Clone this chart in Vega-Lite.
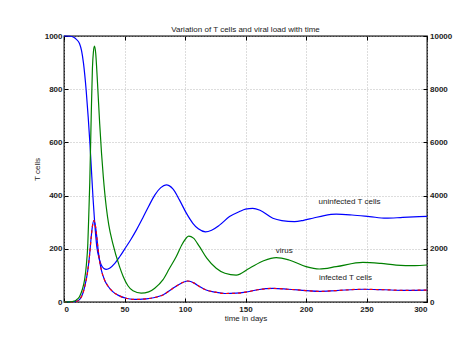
{
  "$schema": "https://vega.github.io/schema/vega-lite/v6.json",
  "width": 363,
  "height": 266,
  "autosize": {"type": "none"},
  "padding": {"left": 64, "top": 36, "right": 39, "bottom": 46},
  "background": "white",
  "title": {"text": "Variation of T cells and viral load with time", "fontSize": 8, "font": "Liberation Sans", "fontWeight": "normal", "color": "#222", "offset": -2},
  "config": {
    "view": {"stroke": "#000", "strokeWidth": 1.3},
    "font": "Liberation Sans",
    "axis": {
      "domain": false,
      "tickSize": -4,
      "tickColor": "#000",
      "tickWidth": 1,
      "labelFont": "Liberation Sans",
      "labelFontSize": 8,
      "labelFontWeight": "bold",
      "labelColor": "#222",
      "titleFont": "Liberation Sans",
      "titleFontSize": 8,
      "titleFontWeight": "normal",
      "titleColor": "#222",
      "gridDash": [1, 2],
      "gridColor": "#aaa",
      "gridWidth": 0.8
    }
  },
  "datasets": {
    "uninfected": [
      {"t": 0, "v": 1000}, {"t": 5, "v": 999}, {"t": 8, "v": 995}, {"t": 10, "v": 988}, {"t": 12.8, "v": 972},
      {"t": 14.5, "v": 945}, {"t": 16.1, "v": 898}, {"t": 18.3, "v": 797}, {"t": 20, "v": 695}, {"t": 21.5, "v": 590},
      {"t": 23, "v": 470}, {"t": 24, "v": 390}, {"t": 25.2, "v": 308}, {"t": 27.1, "v": 208}, {"t": 29, "v": 165},
      {"t": 30.7, "v": 140}, {"t": 33, "v": 126}, {"t": 34.9, "v": 123}, {"t": 38, "v": 128}, {"t": 42, "v": 145},
      {"t": 46, "v": 170}, {"t": 50, "v": 198}, {"t": 55, "v": 233}, {"t": 60, "v": 272}, {"t": 65, "v": 315},
      {"t": 70, "v": 360}, {"t": 75, "v": 402}, {"t": 80, "v": 430}, {"t": 84.5, "v": 440}, {"t": 90, "v": 425},
      {"t": 95.5, "v": 383}, {"t": 101, "v": 335},
      {"t": 106.5, "v": 296}, {"t": 111, "v": 275}, {"t": 116.9, "v": 264}, {"t": 122, "v": 270}, {"t": 128.5, "v": 289},
      {"t": 136.8, "v": 321}, {"t": 145, "v": 340}, {"t": 150, "v": 349}, {"t": 156, "v": 352}, {"t": 162, "v": 345},
      {"t": 172.6, "v": 315}, {"t": 180, "v": 306}, {"t": 190.5, "v": 302}, {"t": 198, "v": 307}, {"t": 205.6, "v": 315},
      {"t": 215, "v": 325}, {"t": 225, "v": 330}, {"t": 238, "v": 327}, {"t": 252.5, "v": 321}, {"t": 266, "v": 315},
      {"t": 280, "v": 318}, {"t": 300, "v": 322}
    ],
    "infected": [
      {"t": 0, "v": 0}, {"t": 5, "v": 0.3}, {"t": 10, "v": 2}, {"t": 13, "v": 10}, {"t": 15.6, "v": 33},
      {"t": 17.5, "v": 65}, {"t": 19.7, "v": 120}, {"t": 21, "v": 170}, {"t": 22.5, "v": 245}, {"t": 23.5, "v": 285},
      {"t": 24.7, "v": 306}, {"t": 26, "v": 285}, {"t": 27.1, "v": 245}, {"t": 28, "v": 205}, {"t": 29.3, "v": 158},
      {"t": 31, "v": 118}, {"t": 33.5, "v": 83}, {"t": 36, "v": 62}, {"t": 40.3, "v": 39}, {"t": 45, "v": 25},
      {"t": 51.4, "v": 14}, {"t": 57, "v": 10}, {"t": 62.4, "v": 10}, {"t": 68, "v": 12}, {"t": 75, "v": 17},
      {"t": 81.7, "v": 26}, {"t": 88, "v": 45}, {"t": 95, "v": 66}, {"t": 102.3, "v": 79}, {"t": 108, "v": 70},
      {"t": 112, "v": 58}, {"t": 117.5, "v": 45}, {"t": 125, "v": 37}, {"t": 133, "v": 32}, {"t": 142.3, "v": 33},
      {"t": 150, "v": 37}, {"t": 160, "v": 46}, {"t": 172.6, "v": 51}, {"t": 185, "v": 48}, {"t": 200, "v": 43},
      {"t": 211, "v": 40}, {"t": 225, "v": 43}, {"t": 247, "v": 48}, {"t": 265, "v": 46}, {"t": 280, "v": 44},
      {"t": 300, "v": 45}
    ],
    "virus": [
      {"t": 0, "v": 0}, {"t": 5, "v": 5}, {"t": 7.3, "v": 20}, {"t": 10, "v": 70}, {"t": 12.8, "v": 200},
      {"t": 15, "v": 450}, {"t": 17, "v": 830}, {"t": 18.5, "v": 1400}, {"t": 19.7, "v": 2200}, {"t": 20.5, "v": 3300},
      {"t": 21.3, "v": 4500}, {"t": 22.5, "v": 7000}, {"t": 23.5, "v": 8800}, {"t": 24.3, "v": 9400}, {"t": 25.2, "v": 9620},
      {"t": 26.2, "v": 9350}, {"t": 27, "v": 8800}, {"t": 28, "v": 7970}, {"t": 29.5, "v": 6700}, {"t": 31, "v": 5600},
      {"t": 32.5, "v": 4700}, {"t": 34.9, "v": 3580}, {"t": 37, "v": 2900}, {"t": 40.3, "v": 2200}, {"t": 45.9, "v": 1330},
      {"t": 49, "v": 950},
      {"t": 52.7, "v": 620}, {"t": 57, "v": 420}, {"t": 63.8, "v": 330}, {"t": 70, "v": 380}, {"t": 75, "v": 520},
      {"t": 81.7, "v": 830}, {"t": 87, "v": 1250}, {"t": 92.7, "v": 1700}, {"t": 98, "v": 2200}, {"t": 103.1, "v": 2480},
      {"t": 107, "v": 2400}, {"t": 112, "v": 2080}, {"t": 118, "v": 1650}, {"t": 125.8, "v": 1270}, {"t": 133, "v": 1080},
      {"t": 142.3, "v": 1010}, {"t": 153.3, "v": 1270}, {"t": 165, "v": 1550}, {"t": 175.4, "v": 1670}, {"t": 186, "v": 1580},
      {"t": 200, "v": 1330}, {"t": 211, "v": 1240}, {"t": 225, "v": 1330}, {"t": 247, "v": 1490}, {"t": 262, "v": 1450},
      {"t": 274.5, "v": 1390}, {"t": 290, "v": 1370}, {"t": 300, "v": 1390}
    ],
    "labels": [
      {"t": 236, "v": 376, "label": "uninfected T cells"},
      {"t": 182, "v": 192, "label": "virus"},
      {"t": 232.6, "v": 89, "label": "infected T cells"}
    ]
  },
  "layer": [
    {
      "encoding": {
        "x": {"field": "t", "type": "quantitative", "scale": {"domain": [0, 300], "nice": false, "zero": false},
              "axis": {"orient": "bottom", "values": [0, 50, 100, 150, 200, 250, 300], "grid": true, "title": "time in days", "labelPadding": 7, "titlePadding": 1}},
        "y": {"field": "v", "type": "quantitative", "scale": {"domain": [0, 1000], "nice": false, "zero": false},
              "axis": {"orient": "left", "values": [0, 200, 400, 600, 800, 1000], "grid": true, "title": "T cells", "labelPadding": 6, "titlePadding": 3, "format": "d"}}
      },
      "layer": [
        {"data": {"name": "uninfected"}, "mark": {"type": "line", "color": "#0000ff", "strokeWidth": 1.2, "interpolate": "monotone"}},
        {"data": {"name": "infected"}, "mark": {"type": "line", "color": "#0000ff", "strokeWidth": 1.2, "interpolate": "monotone"}},
        {"data": {"name": "infected"}, "mark": {"type": "line", "color": "#ff0000", "strokeWidth": 1.2, "strokeDash": [3, 3], "interpolate": "monotone"}},
        {"data": {"name": "labels"}, "mark": {"type": "text", "fontSize": 8, "font": "Liberation Sans", "color": "#222", "align": "center", "baseline": "middle"},
         "encoding": {"text": {"field": "label"}}}
      ]
    },
    {
      "data": {"name": "virus"},
      "mark": {"type": "line", "color": "#008000", "strokeWidth": 1.2, "interpolate": "monotone"},
      "encoding": {
        "x": {"field": "t", "type": "quantitative", "scale": {"domain": [0, 300], "nice": false, "zero": false},
              "axis": {"orient": "top", "values": [0, 50, 100, 150, 200, 250, 300], "labels": false, "grid": false, "title": null}},
        "y": {"field": "v", "type": "quantitative", "scale": {"domain": [0, 10000], "nice": false, "zero": false},
              "axis": {"orient": "right", "values": [0, 2000, 4000, 6000, 8000, 10000], "grid": false, "title": null, "labelPadding": 6.5, "format": "d"}}
      }
    }
  ],
  "resolve": {"scale": {"y": "independent"}, "axis": {"x": "independent"}}
}
